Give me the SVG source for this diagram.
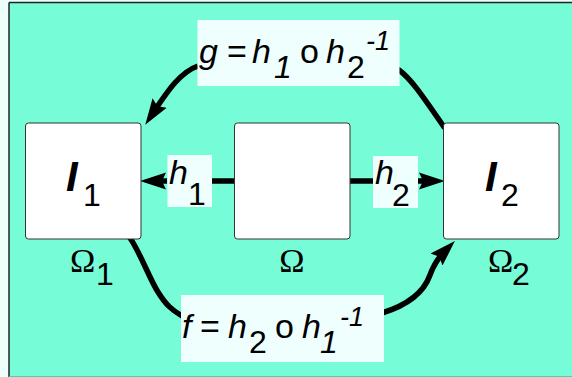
<svg xmlns="http://www.w3.org/2000/svg" width="572" height="377" viewBox="0 0 572 377">
<style>
.t{font-family:"Liberation Sans",Arial,sans-serif;fill:#000}
.it{font-style:italic}
.om{font-family:"Liberation Serif","Times New Roman",serif;font-size:34px}
.box{fill:#fff;stroke:#333;stroke-width:1}
.lbl{fill:#EEFFFE}
.con{fill:none;stroke:#000;stroke-width:5.5}
</style>
<defs>
<marker id="ah" markerUnits="userSpaceOnUse" markerWidth="28" markerHeight="20" viewBox="0 0 28 20" refX="12" refY="10" orient="auto">
<path d="M0,1.5 L26,10 L0,18.5 L4,10 z" fill="#000"/>
</marker>
</defs>
<rect x="0" y="0" width="572" height="377" fill="#EEFEFB"/>
<rect x="9" y="2.5" width="570" height="374" fill="#76FCD6"/>
<line x1="9" y1="2.5" x2="572" y2="2.5" stroke="#222" stroke-width="1.5"/>
<line x1="9" y1="2.5" x2="9" y2="377" stroke="#222" stroke-width="1.5"/>
<line x1="9" y1="376.5" x2="572" y2="376.5" stroke="#5CC9A8" stroke-width="1"/>

<g id="connectors">
<path class="con" d="M212,181 L234,181" stroke-linecap="round"/>
<path class="con" d="M167,181 L154,181" marker-end="url(#ah)"/>
<path class="con" d="M350,181 L373,181" stroke-linecap="round"/>
<path class="con" d="M418,181 L431,181" marker-end="url(#ah)"/>
<path class="con" d="M198,66 C180,72 167,92 153,113" marker-end="url(#ah)"/>
<path class="con" d="M399,70 C410,78 420,92 444,127" stroke-linecap="round"/>
<path class="con" d="M130,238 C140,252 150,280 158,292 C166,305 172,310 182,316" stroke-linecap="round"/>
<path class="con" d="M382,313 C408,305 424,292 430,275 C434,264 438,258 445,251" marker-end="url(#ah)"/>
</g>

<g id="node-I1">
<rect class="box" x="25.5" y="123" width="115.5" height="116" rx="3"/>
<text class="t" x="66" y="191" font-size="42" font-weight="bold" font-style="italic">I</text>
<text class="t" x="83" y="206" font-size="32">1</text>
<text class="om" x="70" y="272">Ω</text>
<text class="t" x="96" y="285" font-size="32">1</text>
</g>

<g id="node-Omega">
<rect class="box" x="234.5" y="123" width="115.5" height="116" rx="3"/>
<text class="om" x="292" y="272" text-anchor="middle">Ω</text>
</g>

<g id="node-I2">
<rect class="box" x="443.5" y="123" width="115.5" height="116" rx="3"/>
<text class="t" x="485" y="191" font-size="42" font-weight="bold" font-style="italic">I</text>
<text class="t" x="501" y="206" font-size="32">2</text>
<text class="om" x="488" y="272">Ω</text>
<text class="t" x="512" y="285" font-size="32">2</text>
</g>

<g id="label-h1">
<rect class="lbl" x="167.5" y="155" width="44.5" height="52"/>
<text class="t it" x="169" y="184" font-size="34">h</text>
<text class="t" x="188" y="205" font-size="32">1</text>
</g>

<g id="label-h2">
<rect class="lbl" x="373" y="156" width="45" height="52"/>
<text class="t it" x="375" y="184" font-size="34">h</text>
<text class="t" x="392" y="206" font-size="32">2</text>
</g>

<g id="label-g">
<rect class="lbl" x="197.5" y="20" width="202" height="66"/>
<text class="t" font-size="34"><tspan class="it" x="199" y="63">g</tspan><tspan x="227" y="63">=</tspan><tspan class="it" x="252" y="63">h</tspan><tspan class="it" x="274" y="78" font-size="32">1</tspan><tspan x="300" y="63">o</tspan><tspan class="it" x="326" y="63">h</tspan><tspan x="347" y="78" font-size="32">2</tspan><tspan class="it" x="366" y="50" font-size="27">-1</tspan></text>
</g>

<g id="label-f">
<rect class="lbl" x="181" y="295" width="203" height="67"/>
<text class="t" font-size="34"><tspan class="it" x="182" y="338">f</tspan><tspan x="200" y="338">=</tspan><tspan class="it" x="228" y="338">h</tspan><tspan x="249" y="353" font-size="32">2</tspan><tspan x="275" y="338">o</tspan><tspan class="it" x="302" y="338">h</tspan><tspan class="it" x="320" y="353" font-size="32">1</tspan><tspan class="it" x="340" y="326" font-size="27">-1</tspan></text>
</g>
</svg>
